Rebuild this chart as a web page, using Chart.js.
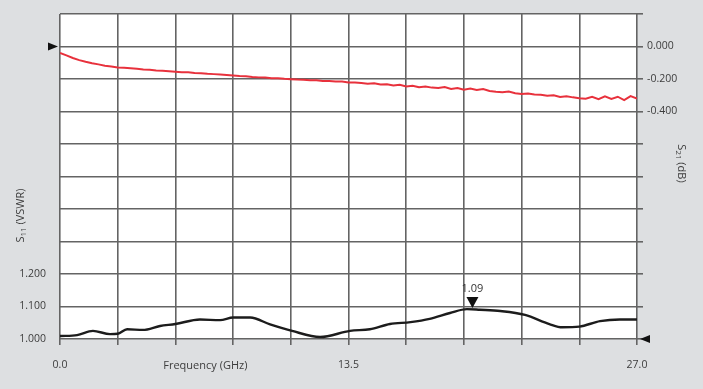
<!DOCTYPE html>
<html>
<head>
<meta charset="utf-8">
<script src="https://cdn.jsdelivr.net/npm/chart.js@4.4.1/dist/chart.umd.min.js"></script>
<style>
  body { margin: 0; background: #dddfe1; }
  #wrap { width: 703px; height: 389px; }
</style>
</head>
<body>
<div id="wrap"><canvas id="s11s21" width="703" height="389"></canvas></div>
<script>
// frequency grid (GHz) and tick labels
const freqTicks = [0, 2.7, 5.4, 8.1, 10.8, 13.5, 16.2, 18.9, 21.6, 24.3, 27];
const freqLabels = [0, 13.5, 27];
const vswrTicks = [1.0, 1.1, 1.2, 1.3, 1.4, 1.5, 1.6, 1.7, 1.8, 1.9, 2.0];
const vswrLabels = [1.0, 1.1, 1.2];
const dbTicks = [-1.8, -1.6, -1.4, -1.2, -1.0, -0.8, -0.6, -0.4, -0.2, 0, 0.2];
const dbLabels = [0, -0.2, -0.4];

// S11 (VSWR)
const s11Freq = [0, 0.8, 1.54, 2.34, 2.7, 3.14, 3.88, 4.68, 5.4, 6.55, 7.49, 8.1, 8.9, 9.83, 10.86, 12.17,
  13.57, 14.5, 15.44, 16.4, 17.3, 18.25, 19.04, 19.65, 20.6, 21.76, 22.9, 23.5, 24.3, 25.27, 26.2, 27];
const s11Vswr = [1.009, 1.012, 1.025, 1.015, 1.016, 1.030, 1.028, 1.040, 1.046, 1.060, 1.058, 1.066, 1.066, 1.045, 1.025, 1.006,
  1.025, 1.030, 1.046, 1.052, 1.062, 1.080, 1.092, 1.090, 1.086, 1.074, 1.046, 1.036, 1.038, 1.055, 1.060, 1.060];

// S21 (dB), every 0.3 GHz
const s21Freq = [0.0, 0.3, 0.6, 0.9, 1.2, 1.5, 1.8, 2.1, 2.4, 2.7, 3.0, 3.3, 3.6, 3.9, 4.2, 4.5, 4.8, 5.1, 5.4, 5.7,
  6.0, 6.3, 6.6, 6.9, 7.2, 7.5, 7.8, 8.1, 8.4, 8.7, 9.0, 9.3, 9.6, 9.9, 10.2, 10.5, 10.8, 11.1, 11.4, 11.7,
  12.0, 12.3, 12.6, 12.9, 13.2, 13.5, 13.8, 14.1, 14.4, 14.7, 15.0, 15.3, 15.6, 15.9, 16.2, 16.5, 16.8, 17.1, 17.4, 17.7,
  18.0, 18.3, 18.6, 18.9, 19.2, 19.5, 19.8, 20.1, 20.4, 20.7, 21.0, 21.3, 21.6, 21.9, 22.2, 22.5, 22.8, 23.1, 23.4, 23.7,
  24.0, 24.3, 24.6, 24.9, 25.2, 25.5, 25.8, 26.1, 26.4, 26.7, 27.0];
const s21Db = [-0.040, -0.055, -0.071, -0.084, -0.094, -0.103, -0.110, -0.118, -0.123, -0.129, -0.131, -0.134, -0.137, -0.141, -0.143, -0.147, -0.149, -0.152, -0.155, -0.158,
  -0.159, -0.163, -0.165, -0.168, -0.170, -0.173, -0.176, -0.179, -0.182, -0.183, -0.188, -0.190, -0.191, -0.196, -0.195, -0.199, -0.201, -0.203, -0.204, -0.208,
  -0.207, -0.212, -0.213, -0.216, -0.216, -0.221, -0.222, -0.225, -0.229, -0.226, -0.234, -0.232, -0.240, -0.236, -0.246, -0.241, -0.251, -0.246, -0.253, -0.256,
  -0.250, -0.261, -0.255, -0.266, -0.258, -0.268, -0.262, -0.274, -0.278, -0.281, -0.277, -0.288, -0.292, -0.290, -0.296, -0.297, -0.303, -0.300, -0.311, -0.306,
  -0.313, -0.318, -0.321, -0.310, -0.324, -0.306, -0.322, -0.309, -0.330, -0.305, -0.320];

// marker
const markerFreq = 19.3;
const markerVswr = 1.092;
const markerText = "1.09";

const FONT = "'Open Sans', 'Noto Sans', sans-serif";
const TEXT = "#3d3d3d";
const GRID = "#646464";

const toPoints = (xs, ys) => xs.map((x, i) => ({ x: x, y: ys[i] }));
const hasVal = (arr, v) => arr.some(a => Math.abs(a - v) < 1e-6);

const extras = {
  id: "extras",
  beforeDraw(chart) {
    const { ctx, chartArea: a } = chart;
    ctx.save();
    ctx.fillStyle = "#ffffff";
    ctx.fillRect(a.left, a.top, a.right - a.left, a.bottom - a.top);
    ctx.restore();
  },
  afterDraw(chart) {
    const { ctx, chartArea: a, scales } = chart;
    ctx.save();
    ctx.fillStyle = "#111111";
    // left arrow at 0 dB
    let y0 = scales.y2.getPixelForValue(0);
    ctx.beginPath();
    ctx.moveTo(a.left - 2, y0);
    ctx.lineTo(a.left - 12, y0 - 4);
    ctx.lineTo(a.left - 12, y0 + 4);
    ctx.closePath();
    ctx.fill();
    // right arrow at VSWR 1.000
    let y1 = scales.y.getPixelForValue(1.0);
    ctx.beginPath();
    ctx.moveTo(a.right + 3, y1);
    ctx.lineTo(a.right + 13, y1 - 4);
    ctx.lineTo(a.right + 13, y1 + 4);
    ctx.closePath();
    ctx.fill();
    // marker triangle + label
    let mx = scales.x.getPixelForValue(markerFreq);
    let my = scales.y.getPixelForValue(markerVswr);
    ctx.beginPath();
    ctx.moveTo(mx, my - 1);
    ctx.lineTo(mx - 6, my - 12);
    ctx.lineTo(mx + 6, my - 12);
    ctx.closePath();
    ctx.fill();
    ctx.fillStyle = "#333333";
    ctx.font = "11px " + FONT;
    ctx.textAlign = "center";
    ctx.textBaseline = "alphabetic";
    ctx.fillText(markerText, mx, my - 17);

    // axis titles
    ctx.fillStyle = TEXT;
    ctx.textBaseline = "middle";
    ctx.textAlign = "center";
    ctx.font = "11px " + FONT;
    ctx.fillText("Frequency (GHz)", scales.x.getPixelForValue(6.8), a.bottom + 27);

    const drawSub = (main, sub, rest, x, y, rot) => {
      ctx.save();
      ctx.translate(x, y);
      ctx.rotate(rot);
      ctx.font = "11px " + FONT;
      const w1 = ctx.measureText(main).width;
      const w3 = ctx.measureText(rest).width;
      ctx.font = "8px " + FONT;
      const w2 = ctx.measureText(sub).width;
      let sx = -(w1 + w2 + w3) / 2;
      ctx.textAlign = "left";
      ctx.font = "11px " + FONT;
      ctx.fillText(main, sx, 0);
      ctx.font = "8px " + FONT;
      ctx.fillText(sub, sx + w1, 3);
      ctx.font = "11px " + FONT;
      ctx.fillText(rest, sx + w1 + w2, 0);
      ctx.restore();
    };
    drawSub("S", "11", " (VSWR)", 21, scales.y.getPixelForValue(1.38), -Math.PI / 2);
    drawSub("S", "21", " (dB)", 681, scales.y2.getPixelForValue(-0.72), Math.PI / 2);
    ctx.restore();
  }
};

const ctx = document.getElementById("s11s21");

const chart = new Chart(ctx, {
  type: "scatter",
  data: {
    datasets: [
      {
        label: "S21",
        data: toPoints(s21Freq, s21Db),
        yAxisID: "y2",
        showLine: true,
        borderColor: "#e8313c",
        borderWidth: 2,
        pointRadius: 0,
        tension: 0
      },
      {
        label: "S11",
        data: toPoints(s11Freq, s11Vswr),
        yAxisID: "y",
        showLine: true,
        borderColor: "#1c1c1c",
        borderWidth: 2.4,
        pointRadius: 0,
        cubicInterpolationMode: "monotone"
      }
    ]
  },
  options: {
    responsive: false,
    animation: false,
    devicePixelRatio: 1,
    layout: {
      padding: { left: 0, right: 0, top: 14, bottom: 0 }
    },
    plugins: {
      legend: { display: false },
      tooltip: { enabled: false }
    },
    scales: {
      x: {
        type: "linear",
        min: 0,
        max: 27,
        afterBuildTicks: s => { s.ticks = freqTicks.map(v => ({ value: v })); },
        afterFit: s => { s.height = 50; },
        border: { display: false },
        grid: { color: GRID, lineWidth: 1.6, tickLength: 6 },
        ticks: {
          color: TEXT,
          font: { family: FONT, size: 10.5 },
          padding: 14,
          maxRotation: 0,
          autoSkip: false,
          callback: v => hasVal(freqLabels, v) ? v.toFixed(1) : ""
        }
      },
      y: {
        type: "linear",
        position: "left",
        min: 1.0,
        max: 2.0,
        afterBuildTicks: s => { s.ticks = vswrTicks.map(v => ({ value: v })); },
        afterFit: s => { s.width = 60; s.paddingTop = 0; s.paddingBottom = 0; },
        border: { display: false },
        grid: { color: GRID, lineWidth: 1.6, drawTicks: false },
        ticks: {
          color: TEXT,
          font: { family: FONT, size: 10.5 },
          padding: 14,
          autoSkip: false,
          callback: v => hasVal(vswrLabels, v) ? v.toFixed(3) : ""
        }
      },
      y2: {
        type: "linear",
        position: "right",
        min: -1.8,
        max: 0.2,
        afterBuildTicks: s => { s.ticks = dbTicks.map(v => ({ value: v })); },
        afterFit: s => { s.width = 66; s.paddingTop = 0; s.paddingBottom = 0; },
        border: { display: false },
        grid: { color: GRID, lineWidth: 1.6, drawOnChartArea: false, tickLength: 6 },
        ticks: {
          color: TEXT,
          font: { family: FONT, size: 10.5 },
          padding: 4,
          autoSkip: false,
          callback: v => hasVal(dbLabels, v) ? (v < 0 ? "-" + Math.abs(v).toFixed(3) : "0.000") : ""
        }
      }
    }
  },
  plugins: [extras]
});
</script>
</body>
</html>
